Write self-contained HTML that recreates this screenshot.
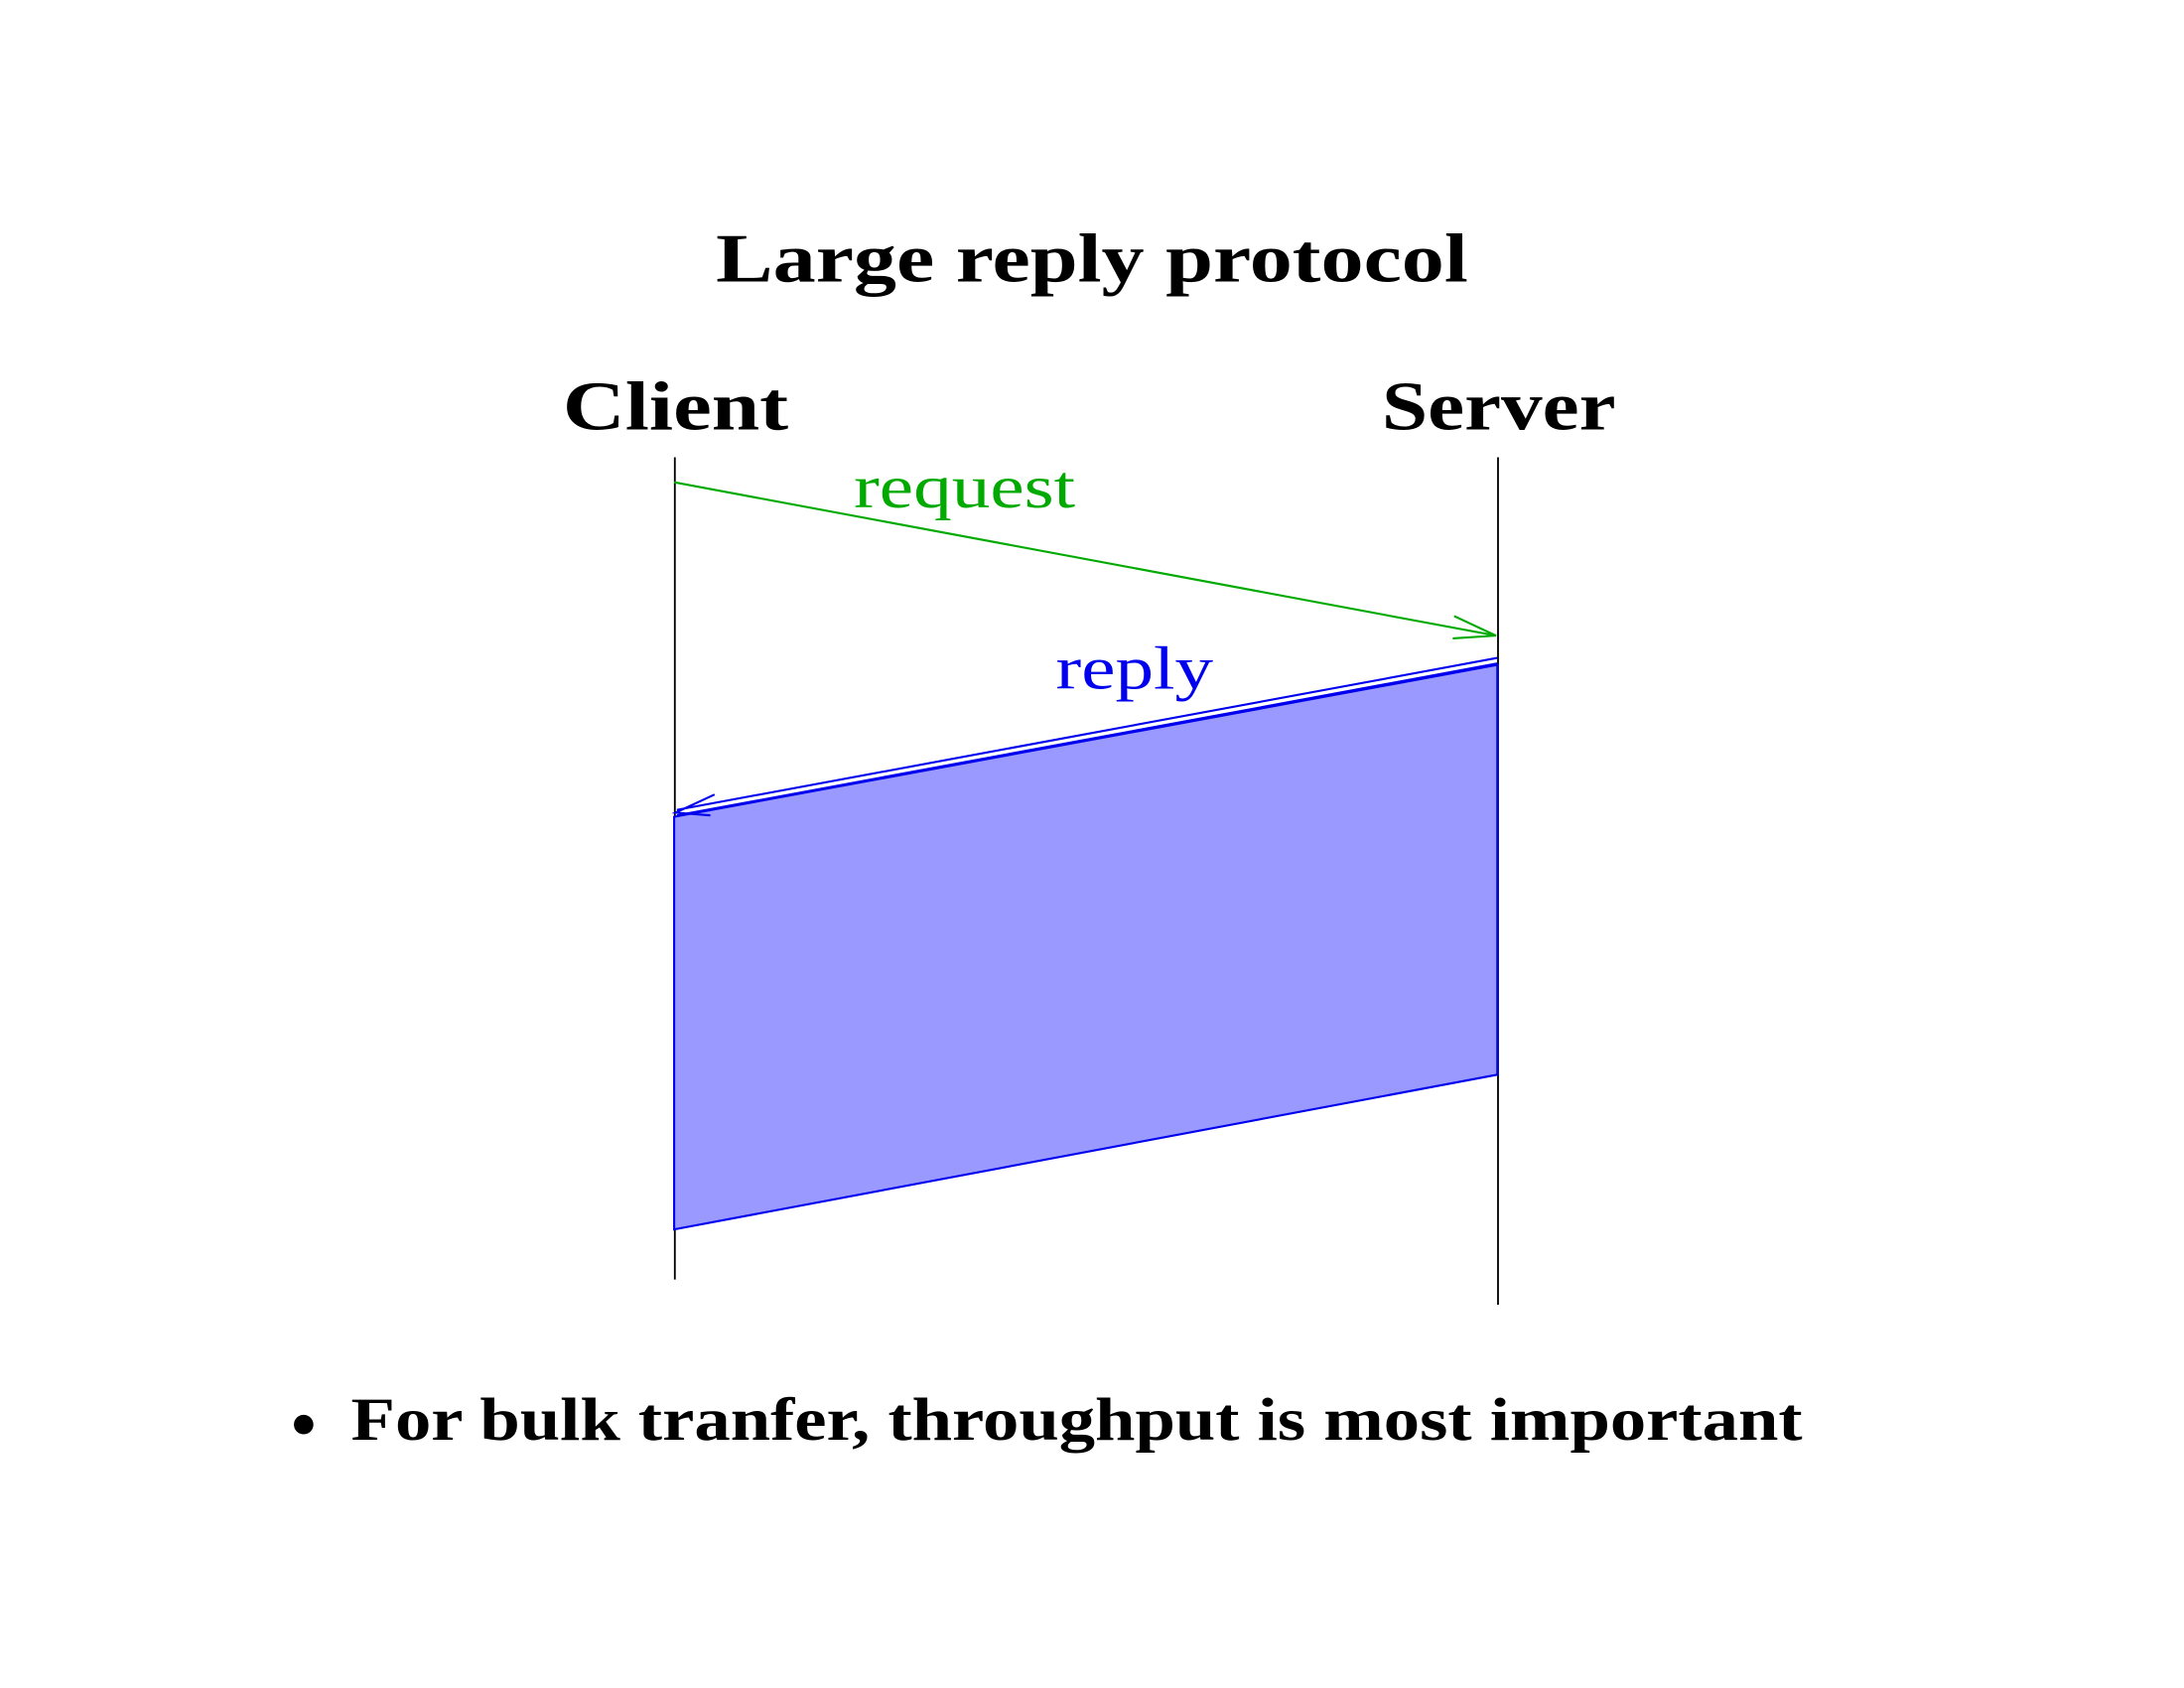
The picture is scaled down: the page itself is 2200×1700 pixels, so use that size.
<!DOCTYPE html>
<html><head><meta charset="utf-8"><style>html,body{margin:0;padding:0;background:#fff}svg{display:block}</style></head>
<body>
<svg width="2200" height="1700" viewBox="0 0 1568 1211" preserveAspectRatio="none" xmlns="http://www.w3.org/2000/svg">
<rect width="1568" height="1211" fill="#fff"/>
<g font-family="'Liberation Serif', serif" font-weight="bold" fill="#000">
<text x="514" y="202" font-size="50" textLength="540" lengthAdjust="spacingAndGlyphs">Large reply protocol</text>
<text x="404" y="308" font-size="50" textLength="162" lengthAdjust="spacingAndGlyphs">Client</text>
<text x="992" y="308" font-size="50" textLength="168" lengthAdjust="spacingAndGlyphs">Server</text>
<text x="252" y="1033" font-size="44" textLength="1042" lengthAdjust="spacingAndGlyphs">For bulk tranfer, throughput is most important</text>
</g>
<circle cx="218" cy="1022" r="7" fill="#000"/>
<line x1="484.5" y1="328" x2="484.5" y2="918" stroke="#000" stroke-width="1.3"/>
<line x1="1075.5" y1="328" x2="1075.5" y2="936" stroke="#000" stroke-width="1.3"/>
<polygon points="484,586 1075,477 1075,771 484,882" fill="#9999ff" stroke="#0000ee" stroke-width="1.5"/>
<line x1="484" y1="346" x2="1074" y2="456" stroke="#00aa00" stroke-width="1.5"/>
<polyline points="1044,442 1074,456 1043,458" fill="none" stroke="#00aa00" stroke-width="1.5"/>
<line x1="1075" y1="472" x2="486" y2="581" stroke="#0000ee" stroke-width="1.5"/>
<line x1="1075" y1="476" x2="486" y2="585" stroke="#0000ee" stroke-width="1.5"/>
<polyline points="513,570 485,583 510,585" fill="none" stroke="#0000ee" stroke-width="1.5"/>
<g font-family="'Liberation Serif', serif">
<text x="613" y="364" font-size="44" fill="#00aa00" textLength="159" lengthAdjust="spacingAndGlyphs">request</text>
<text x="758" y="494" font-size="44" fill="#0000ee" textLength="113" lengthAdjust="spacingAndGlyphs">reply</text>
</g>
</svg>
</body></html>
